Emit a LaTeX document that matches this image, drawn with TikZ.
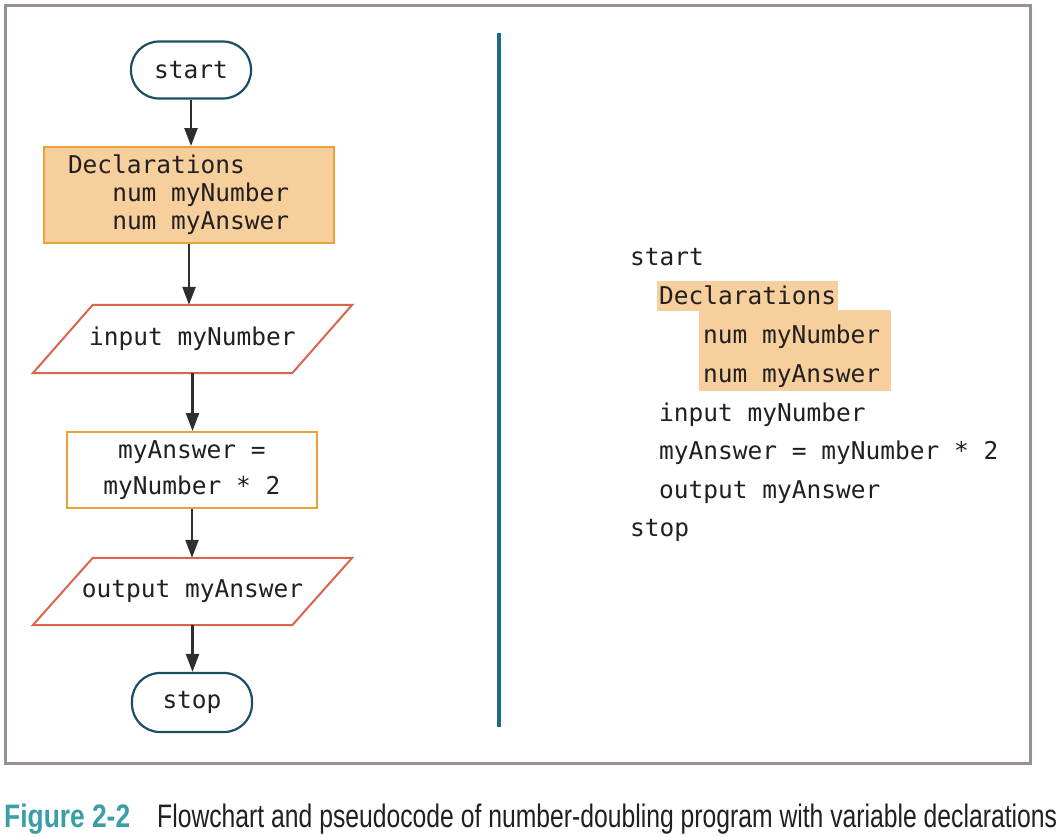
\documentclass[tikz,border=0pt]{standalone}
\usepackage{graphicx}
\usepackage{fontspec}
\setmainfont{Liberation Sans}
\newfontfamily\monof{DejaVu Sans Mono}
\usetikzlibrary{arrows.meta,calc}
\newcommand\msp{\phantom{x}}
\definecolor{frameC}{HTML}{9A8F8C}
\definecolor{divC}{HTML}{1F6A8C}
\definecolor{termC}{HTML}{1C4E63}
\definecolor{declFill}{HTML}{F7CF9C}
\definecolor{declLine}{HTML}{E8A238}
\definecolor{ioC}{HTML}{D9664C}
\definecolor{arrC}{HTML}{2E2E2E}
\definecolor{txtC}{HTML}{231F20}
\definecolor{capTeal}{HTML}{3C9EA5}
\begin{document}
\begin{tikzpicture}[x=1pt,y=-1pt,
  mono/.style={font=\monof\fontsize{24.5}{28}\selectfont, text=txtC},
  term/.style={mono, draw=termC, line width=2.2pt, rounded corners=28pt,
    minimum width=120pt, inner sep=0pt},
  declbox/.style={mono, draw=declLine, fill=declFill, line width=2pt,
    minimum width=290pt, minimum height=96pt, text width=242pt,
    inner xsep=24pt, inner ysep=0pt, align=left},
  procbox/.style={mono, font=\monof\fontsize{24.5}{36}\selectfont,
    draw=declLine, line width=2pt, minimum width=250pt, minimum height=76pt,
    inner sep=0pt, align=center},
  iobox/.style={mono, minimum width=259pt, inner sep=0pt},
  ioline/.style={draw=ioC, line width=2pt, line join=miter},
  arr/.style={draw=arrC, line width=2.5pt, -{Triangle[length=18pt,width=13pt]}},
  code/.style={mono, anchor=base west, inner sep=0pt},
  hl/.style={fill=declFill, draw=none}
]
\useasboundingbox (0,0) rectangle (1063,836);

% frame and divider
\draw[frameC, line width=3pt] (5,5) rectangle (1030,763);
\coordinate (dtop) at (499,33);
\coordinate (dbot) at (499,727);
\draw[divC, line width=4pt] (dtop) -- (dbot);

% flowchart
\node[term, minimum height=57pt] (start) at (191,70) {start};
\node[declbox] (decl) at (189,195)
  {Declarations\\\phantom{num}num\msp myNumber\\\phantom{num}num\msp myAnswer};
\node[iobox, minimum height=68pt] (in) at (192.5,339) {input myNumber};
\draw[ioline] ($(in.south west)+(-30,0)$) -- ($(in.north west)+(30,0)$)
  -- ($(in.north east)+(30,0)$) -- ($(in.south east)+(-30,0)$) -- cycle;
\node[procbox] (proc) at (192,470) {myAnswer\msp=\\myNumber\msp*\msp2};
\node[iobox, minimum height=67pt] (out) at (192.5,591.5) {output myAnswer};
\draw[ioline] ($(out.south west)+(-30,0)$) -- ($(out.north west)+(30,0)$)
  -- ($(out.north east)+(30,0)$) -- ($(out.south east)+(-30,0)$) -- cycle;
\node[term, minimum height=59pt] (stop) at (192,702.5) {stop};

\draw[arr] (start.south) -- (start.south |- decl.north);
\draw[arr] (decl.south) -- (decl.south |- in.north);
\draw[arr] (in.south) -- (in.south |- proc.north);
\draw[arr] (proc.south) -- (proc.south |- out.north);
\draw[arr] (out.south) -- (out.south |- stop.north);

% pseudocode
\fill[hl] (657,281) rectangle (838,311);
\fill[hl] (699,310) rectangle (891,391);
\node[code] (p1) at (630,265) {start};
\node[code] (p2) at (659,304) {Declarations};
\node[code] (p3) at (703,343) {num myNumber};
\node[code] (p4) at (703,382) {num myAnswer};
\node[code] (p5) at (659,421) {input myNumber};
\node[code] (p6) at (659,459) {myAnswer = myNumber * 2};
\node[code] (p7) at (659,498) {output myAnswer};
\node[code] (p8) at (630,536) {stop};

% caption
\node[anchor=base west, inner sep=0pt, text=capTeal,
  font=\bfseries\fontsize{32.5}{34}\selectfont] (figlbl) at (4,827)
  {\resizebox{126pt}{\height}{Figure 2-2}};
\node[anchor=base west, inner sep=0pt, text=txtC,
  font=\fontsize{32.5}{34}\selectfont] (capt) at (157,827)
  {\resizebox{900pt}{\height}{Flowchart and pseudocode of number-doubling program with variable declarations}};
\end{tikzpicture}
\end{document}
